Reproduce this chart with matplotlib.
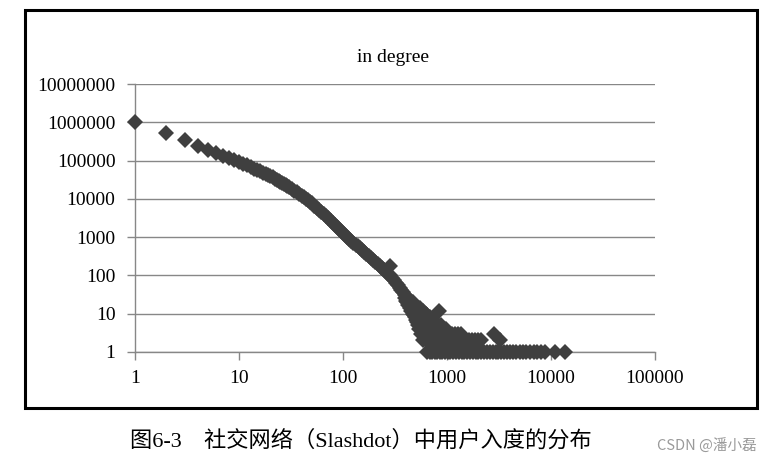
import matplotlib
matplotlib.use("Agg")
import matplotlib.pyplot as plt
from matplotlib.patches import Rectangle
from matplotlib.ticker import FixedFormatter, NullLocator

# in-degree (x) vs number of users (y)
main_x = [1, 2, 3, 4, 5, 6, 7, 8, 9, 10, 11, 12, 13, 14, 15, 16, 17, 18, 19, 20,
          21, 22, 23, 24, 25, 26, 27, 28, 29, 30, 32, 34, 36, 38, 40, 42, 44, 46, 48, 50,
          53, 56, 59, 62, 65, 68, 72, 76, 80, 84, 88, 92, 96, 100, 105, 110, 115, 120,
          126, 132, 138, 145, 152, 160, 168, 176, 185, 195, 205, 215, 225, 236, 248,
          260, 272, 283, 295, 308, 322, 336, 350, 365, 380, 395, 410]
main_y = [1.0e6, 5.3e5, 3.4e5, 2.45e5, 1.9e5, 1.55e5, 1.32e5, 1.15e5, 1.02e5, 9.2e4,
          8.3e4, 7.5e4, 6.8e4, 6.2e4, 5.7e4, 5.25e4, 4.85e4, 4.5e4, 4.2e4, 3.9e4,
          3.65e4, 3.4e4, 3.2e4, 3.0e4, 2.8e4, 2.65e4, 2.5e4, 2.35e4, 2.2e4, 2.07e4,
          1.85e4, 1.65e4, 1.47e4, 1.32e4, 1.2e4, 1.1e4, 1.0e4, 9.1e3, 8.3e3, 7.6e3,
          6.6e3, 5.8e3, 5.1e3, 4.5e3, 4.0e3, 3.6e3, 3.1e3, 2.7e3, 2.35e3, 2.05e3,
          1.8e3, 1.6e3, 1.42e3, 1.27e3, 1.12e3, 1.0e3, 897, 809, 718, 641, 575, 510,
          454, 401, 356, 318, 281, 247, 219, 195, 174, 155, 137, 123, 110, 100,
          86, 74, 64, 55, 48, 41, 36, 31, 27]

# noisy tail: degrees that share the same small count
x_at_25 = [395, 405, 415]
x_at_22 = [400, 412, 425, 440]
x_at_20 = [410, 425, 440, 455, 470]
x_at_17 = [425, 440, 455, 470, 490]
x_at_14 = [440, 460, 480, 500, 525, 550]
x_at_12 = [455, 475, 500, 530, 560, 590, 830]
x_at_10 = [470, 495, 520, 545, 570, 600, 630]
x_at_9 = [480, 505, 530, 555, 580, 610, 645]
x_at_8 = [490, 520, 545, 575, 610, 650, 690]
x_at_7 = [500, 530, 560, 590, 620, 655, 690, 730]
x_at_6 = [510, 540, 570, 605, 640, 680, 720, 770]
x_at_5 = [525, 560, 600, 640, 680, 720, 770, 820, 870]
x_at_4 = [540, 575, 610, 650, 690, 740, 790, 850, 910, 980]
x_at_3 = [560, 600, 640, 690, 740, 790, 850, 910, 980, 1050, 1120, 1200, 1280, 1370, 2800]
x_at_2 = [590, 630, 670, 720, 770, 820, 870, 930, 990, 1050, 1120, 1190, 1270,
          1350, 1440, 1530, 1630, 1740, 1850, 1970, 2100, 3250]
x_at_1 = [640, 680, 720, 760, 800, 850, 900, 960, 1020, 1080, 1150, 1220, 1300, 1380,
          1470, 1560, 1660, 1770, 1880, 2000, 2130, 2270, 2420, 2580, 2750, 2930,
          3120, 3330, 3550, 3800, 4050, 4350, 4650, 5000, 5400, 5800, 6300, 6800,
          7400, 8000, 8700, 11000, 13500]
outlier_x = [285]
outlier_y = [175]

tail_rows = [(25, x_at_25), (22, x_at_22), (20, x_at_20), (17, x_at_17), (14, x_at_14),
             (12, x_at_12), (10, x_at_10), (9, x_at_9), (8, x_at_8), (7, x_at_7),
             (6, x_at_6), (5, x_at_5), (4, x_at_4), (3, x_at_3), (2, x_at_2), (1, x_at_1)]

y_labels = ["1", "10", "100", "1000", "10000", "100000", "1000000", "10000000"]
x_labels = ["1", "10", "100", "1000", "10000", "100000"]

W, H = 779, 463
fig = plt.figure(figsize=(W / 100, H / 100), dpi=100)
fig.patch.set_facecolor("white")

# black frame round the chart
fig.patches.append(Rectangle((25 / W, 1 - 408 / H), 732 / W, 398 / H,
                             transform=fig.transFigure, fill=False,
                             edgecolor="black", linewidth=2.2))

ax = fig.add_axes([135 / W, 1 - 352 / H, 520 / W, 268 / H])
ax.set_xscale("log")
ax.set_yscale("log")
ax.set_xlim(1, 1e5)
ax.set_ylim(1, 1e7)

grey = "#878787"
mk = dict(linestyle="none", marker="D", markersize=8.2, markeredgewidth=0,
          color="#3f3f3f", zorder=3, clip_on=False)
ax.plot(main_x, main_y, **mk)
for c, xs in tail_rows:
    ax.plot(xs, [c] * len(xs), **mk)
ax.plot(outlier_x, outlier_y, **mk)

ax.set_yticks([10 ** i for i in range(8)])
ax.set_xticks([10 ** i for i in range(6)])
ax.yaxis.set_minor_locator(NullLocator())
ax.xaxis.set_minor_locator(NullLocator())
ax.yaxis.set_major_formatter(FixedFormatter(y_labels))
ax.xaxis.set_major_formatter(FixedFormatter(x_labels))

ax.grid(axis="y", color=grey, linewidth=1.0)
ax.set_axisbelow(True)
for s in ["top", "right"]:
    ax.spines[s].set_visible(False)
for s in ["left", "bottom"]:
    ax.spines[s].set_color(grey)
    ax.spines[s].set_linewidth(1.0)

ax.tick_params(axis="both", direction="out", length=6, width=1.0, color=grey,
               labelsize=14, labelcolor="black")
ax.tick_params(axis="y", pad=8)
ax.tick_params(axis="x", pad=7)
for lab in ax.get_xticklabels() + ax.get_yticklabels():
    lab.set_fontfamily("Liberation Serif")

fig.text(393 / W, 1 - 57 / H, "in degree", ha="center", va="center",
         fontsize=14, family="Liberation Serif")

fig.text(130 / W, 1 - 441 / H, "图6-3　社交网络（Slashdot）中用户入度的分布",
         ha="left", va="center", fontsize=16,
         family=["Liberation Serif", "Noto Sans CJK SC"])
fig.text(757 / W, 1 - 446 / H, "CSDN @潘小磊", ha="right", va="center",
         fontsize=10.5, color="#9a9a9a", family=["Noto Sans CJK SC", "DejaVu Sans"])

fig.savefig("out.png", dpi=100)
